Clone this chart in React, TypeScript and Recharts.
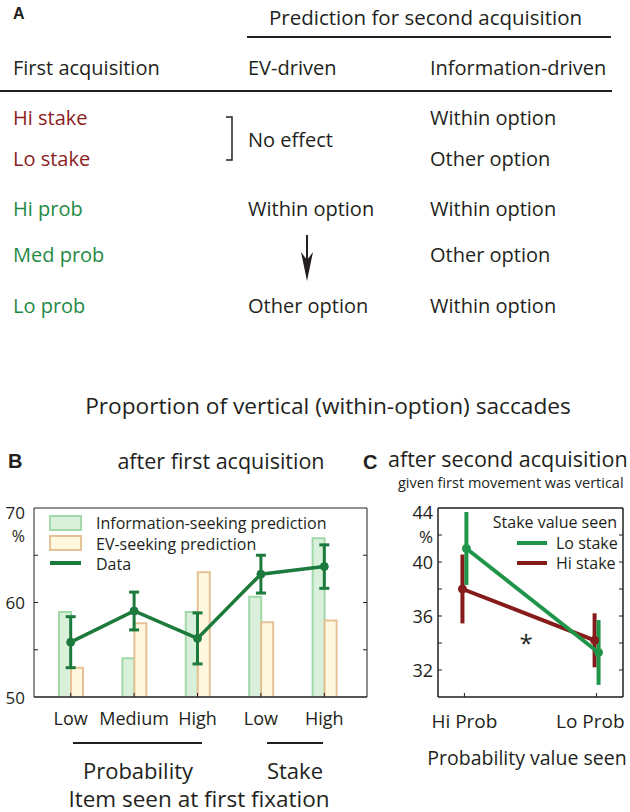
import React from "react";
import {
  ComposedChart,
  Bar,
  Line,
  XAxis,
  YAxis,
  ErrorBar,
} from "recharts";

// panel B: proportion of vertical saccades after first acquisition
const bKeys = ["pLow", "pMed", "pHigh", "sLow", "sHigh"];
const bTickLabels = ["Low", "Medium", "High", "Low", "High"];
const infoPrediction = [59.0, 54.1, 59.0, 60.6, 66.8];
const evPrediction = [53.1, 57.8, 63.2, 57.9, 58.1];
const observed = [55.8, 59.1, 56.2, 63.0, 63.8];
const observedErr = [2.7, 2.0, 2.7, 2.0, 2.3];
const bTicks = [50, 55, 60, 65, 70];
const bLabelled = [50, 60, 70];

// panel C: after second acquisition
const cProbIndex = [1, 2];
const cTickLabels = ["Hi Prob", "Lo Prob"];
const loStakeVals = [41.0, 33.3];
const loStakeErr = [2.7, 2.4];
const hiStakeVals = [38.0, 34.2];
const hiStakeErr = [2.55, 2.0];
const cTicks = [30, 32, 34, 36, 38, 40, 42, 44];
const cLabelled = [32, 36, 40, 44];

const FONT = "'Open Sans', 'Noto Sans', sans-serif";
const BOLD = "'Liberation Sans', Arial, sans-serif";
const INK = "#231f20";
const DARK_RED = "#8b1c1f";
const TEXT_GREEN = "#1f8a45";
const DATA_GREEN = "#1b7a3c";
const LO_GREEN = "#1f9549";
const HI_RED = "#861b1b";
const INFO_FILL = "#d9f0db";
const INFO_STROKE = "#a3d8a8";
const EV_FILL = "#fff8df";
const EV_STROKE = "#e6c195";

const DODGE = 0.015;

const bData = bKeys.map((k, i) => ({
  cat: k,
  info: infoPrediction[i],
  ev: evPrediction[i],
  data: observed[i],
  dataErr: observedErr[i],
}));

const loStakeData = cProbIndex.map((p, i) => ({
  x: p + DODGE,
  y: loStakeVals[i],
  e: loStakeErr[i],
}));
const hiStakeData = cProbIndex.map((p, i) => ({
  x: p - DODGE,
  y: hiStakeVals[i],
  e: hiStakeErr[i],
}));

const makeYTick =
  (side: "left" | "right", domain: number[], labelled: number[], gap: number, size: number) =>
  (props: any) => {
    const { x, y, payload } = props;
    const v = payload.value;
    const inward = side === "left" ? 4 : -4;
    const edge = v === domain[0] || v === domain[1];
    const top = v === domain[1];
    return (
      <g>
        {!edge && (
          <line x1={x} x2={x + inward} y1={y} y2={y} stroke={INK} strokeWidth={1} />
        )}
        {side === "left" && labelled.includes(v) && (
          <text
            x={x - gap}
            y={top ? y + 4 : y}
            textAnchor="end"
            dominantBaseline="central"
            fontFamily={FONT}
            fontSize={size}
            fill={INK}
          >
            {v}
          </text>
        )}
        {side === "left" && top && (
          <text
            x={x - gap}
            y={y + 28}
            textAnchor="end"
            dominantBaseline="central"
            fontFamily={FONT}
            fontSize={size - 1}
            fill={INK}
          >
            %
          </text>
        )}
      </g>
    );
  };

const BXTick = (props: any) => {
  const { x, y, index } = props;
  return (
    <g>
      <line x1={x} x2={x} y1={y} y2={y - 4} stroke={INK} strokeWidth={1} />
      <text
        x={x}
        y={y + 21}
        textAnchor="middle"
        dominantBaseline="central"
        fontFamily={FONT}
        fontSize={18}
        fill={INK}
      >
        {bTickLabels[index]}
      </text>
    </g>
  );
};

const CXTick = (props: any) => {
  const { x, y, index } = props;
  const last = index === cTickLabels.length - 1;
  return (
    <g>
      <line x1={x} x2={x} y1={y} y2={y - 4} stroke={INK} strokeWidth={1} />
      <text
        x={last ? x + 28 : x}
        y={y + 24}
        textAnchor={last ? "end" : "middle"}
        dominantBaseline="central"
        fontFamily={FONT}
        fontSize={19}
        fill={INK}
      >
        {cTickLabels[index]}
      </text>
    </g>
  );
};

const T = (p: any) => (
  <text
    dominantBaseline="central"
    fontFamily={FONT}
    fontSize={20}
    fill={INK}
    {...p}
  />
);

const Overlay = () => (
  <svg
    width={630}
    height={812}
    style={{ position: "absolute", left: 0, top: 0, pointerEvents: "none" }}
  >
    {/* panel A */}
    <text x={13} y={13} dominantBaseline="central" fontFamily={BOLD} fontWeight="bold" fontSize={16} fill={INK}>
      A
    </text>
    <T x={269} y={17} fontSize={20.5}>Prediction for second acquisition</T>
    <line x1={247} x2={611} y1={37} y2={37} stroke={INK} strokeWidth={2} />
    <T x={13} y={67}>First acquisition</T>
    <T x={248} y={67}>EV-driven</T>
    <T x={430} y={67}>Information-driven</T>
    <line x1={0} x2={612} y1={91} y2={91} stroke={INK} strokeWidth={2} />

    <T x={13} y={117} fill={DARK_RED}>Hi stake</T>
    <T x={13} y={158} fill={DARK_RED}>Lo stake</T>
    <T x={13} y={208} fill={TEXT_GREEN}>Hi prob</T>
    <T x={13} y={254} fill={TEXT_GREEN}>Med prob</T>
    <T x={13} y={305} fill={TEXT_GREEN}>Lo prob</T>

    <path d="M226 117 H232 V160 H226" fill="none" stroke={INK} strokeWidth={1.5} />
    <T x={248} y={139}>No effect</T>
    <T x={248} y={208}>Within option</T>
    <line x1={307} x2={307} y1={235} y2={266} stroke={INK} strokeWidth={2} />
    <path d="M307 281 L301 252 L307 260 L313 252 Z" fill={INK} />
    <T x={248} y={305}>Other option</T>

    <T x={430} y={117}>Within option</T>
    <T x={430} y={158}>Other option</T>
    <T x={430} y={208}>Within option</T>
    <T x={430} y={254}>Other option</T>
    <T x={430} y={305}>Within option</T>

    {/* shared title */}
    <T x={328} y={405} textAnchor="middle" fontSize={22.7}>
      Proportion of vertical (within-option) saccades
    </T>

    {/* panel B titles */}
    <text x={8} y={461} dominantBaseline="central" fontFamily={BOLD} fontWeight="bold" fontSize={20} fill={INK}>
      B
    </text>
    <T x={221} y={460} textAnchor="middle" fontSize={21.5}>after first acquisition</T>

    {/* panel B legend */}
    <rect x={50} y={516} width={31} height={14} fill={INFO_FILL} stroke={INFO_STROKE} strokeWidth={2} />
    <T x={96} y={523} fontSize={16}>Information-seeking prediction</T>
    <rect x={50} y={536} width={31} height={14} fill={EV_FILL} stroke={EV_STROKE} strokeWidth={2} />
    <T x={96} y={544} fontSize={16}>EV-seeking prediction</T>
    <line x1={50} x2={81} y1={563} y2={563} stroke={DATA_GREEN} strokeWidth={4} />
    <T x={96} y={564} fontSize={16}>Data</T>

    {/* panel B group labels */}
    <line x1={73} x2={202} y1={743} y2={743} stroke={INK} strokeWidth={2} />
    <line x1={267} x2={323} y1={743} y2={743} stroke={INK} strokeWidth={2} />
    <T x={138} y={770} textAnchor="middle" fontSize={22}>Probability</T>
    <T x={295} y={770} textAnchor="middle" fontSize={22}>Stake</T>
    <T x={199} y={798} textAnchor="middle" fontSize={22.5}>Item seen at first fixation</T>

    {/* panel C titles */}
    <text x={363} y={462} dominantBaseline="central" fontFamily={BOLD} fontWeight="bold" fontSize={20} fill={INK}>
      C
    </text>
    <T x={388} y={458} fontSize={21.5}>after second acquisition</T>
    <T x={398} y={482} fontSize={14.5}>given first movement was vertical</T>

    {/* panel C legend */}
    <T x={617} y={522} textAnchor="end" fontSize={16}>Stake value seen</T>
    <line x1={517} x2={547} y1={543} y2={543} stroke={LO_GREEN} strokeWidth={4} />
    <T x={556} y={543} fontSize={16}>Lo stake</T>
    <line x1={517} x2={547} y1={563} y2={563} stroke={HI_RED} strokeWidth={4} />
    <T x={556} y={563} fontSize={16}>Hi stake</T>
    <T x={526} y={652} textAnchor="middle" dominantBaseline="auto" fontSize={24}>*</T>

    <T x={527} y={757} textAnchor="middle" fontSize={19.5}>Probability value seen</T>
  </svg>
);

// axes need a size of at least 1px or Recharts skips drawing them
const PanelB = () => (
  <div style={{ position: "absolute", left: 0, top: 490 }}>
    <ComposedChart
      width={380}
      height={270}
      data={bData}
      margin={{ top: 17, right: 12, bottom: 62, left: 33 }}
      barGap={0}
    >
      <XAxis
        dataKey="cat"
        interval={0}
        height={1}
        tickSize={0}
        tickMargin={0}
        tickLine={false}
        padding={{ left: 5, right: 11 }}
        axisLine={{ stroke: "#555", strokeWidth: 2 }}
        tick={BXTick}
      />
      <XAxis
        xAxisId="top"
        orientation="top"
        dataKey="cat"
        height={1}
        tick={false}
        tickLine={false}
        padding={{ left: 5, right: 11 }}
        axisLine={{ stroke: INK, strokeWidth: 1 }}
      />
      <YAxis
        yAxisId="left"
        domain={[50, 70]}
        ticks={bTicks}
        allowDataOverflow
        width={1}
        tickSize={0}
        tickMargin={0}
        tickLine={false}
        axisLine={{ stroke: INK, strokeWidth: 1 }}
        tick={makeYTick("left", [50, 70], bLabelled, 9, 17)}
      />
      <YAxis
        yAxisId="right"
        orientation="right"
        domain={[50, 70]}
        ticks={bTicks}
        allowDataOverflow
        width={1}
        tickSize={0}
        tickMargin={0}
        tickLine={false}
        axisLine={{ stroke: INK, strokeWidth: 1 }}
        tick={makeYTick("right", [50, 70], bLabelled, 9, 17)}
      />
      <Bar
        yAxisId="left"
        dataKey="info"
        barSize={12}
        fill={INFO_FILL}
        stroke={INFO_STROKE}
        strokeWidth={2}
        isAnimationActive={false}
      />
      <Bar
        yAxisId="left"
        dataKey="ev"
        barSize={12}
        fill={EV_FILL}
        stroke={EV_STROKE}
        strokeWidth={2}
        isAnimationActive={false}
      />
      <Line
        yAxisId="left"
        dataKey="data"
        stroke={DATA_GREEN}
        strokeWidth={3.5}
        dot={{ r: 4, fill: DATA_GREEN, stroke: DATA_GREEN, strokeWidth: 1 }}
        isAnimationActive={false}
      >
        <ErrorBar dataKey="dataErr" width={5} strokeWidth={3} stroke={DATA_GREEN} />
      </Line>
    </ComposedChart>
  </div>
);

const PanelC = () => (
  <div style={{ position: "absolute", left: 400, top: 490 }}>
    <ComposedChart
      width={230}
      height={270}
      margin={{ top: 17, right: 6, bottom: 62, left: 37 }}
    >
      <XAxis
        type="number"
        dataKey="x"
        domain={[0.8, 2.2]}
        ticks={cProbIndex}
        allowDataOverflow
        interval={0}
        height={1}
        tickSize={0}
        tickMargin={0}
        tickLine={false}
        axisLine={{ stroke: "#555", strokeWidth: 2 }}
        tick={CXTick}
      />
      <XAxis
        xAxisId="top"
        orientation="top"
        type="number"
        dataKey="x"
        domain={[0.8, 2.2]}
        ticks={cProbIndex}
        allowDataOverflow
        height={1}
        tick={false}
        tickLine={false}
        axisLine={{ stroke: INK, strokeWidth: 1.5 }}
      />
      <YAxis
        yAxisId="left"
        domain={[30, 44]}
        ticks={cTicks}
        allowDataOverflow
        width={1}
        tickSize={0}
        tickMargin={0}
        tickLine={false}
        axisLine={{ stroke: INK, strokeWidth: 1.5 }}
        tick={makeYTick("left", [30, 44], cLabelled, 5, 18)}
      />
      <YAxis
        yAxisId="right"
        orientation="right"
        domain={[30, 44]}
        ticks={cTicks}
        allowDataOverflow
        width={1}
        tickSize={0}
        tickMargin={0}
        tickLine={false}
        axisLine={{ stroke: INK, strokeWidth: 1.5 }}
        tick={makeYTick("right", [30, 44], cLabelled, 5, 18)}
      />
      <Line
        yAxisId="left"
        data={hiStakeData}
        dataKey="y"
        stroke={HI_RED}
        strokeWidth={4}
        dot={{ r: 4, fill: HI_RED, stroke: HI_RED, strokeWidth: 1 }}
        isAnimationActive={false}
      >
        <ErrorBar dataKey="e" width={0} strokeWidth={4} stroke={HI_RED} />
      </Line>
      <Line
        yAxisId="left"
        data={loStakeData}
        dataKey="y"
        stroke={LO_GREEN}
        strokeWidth={4}
        dot={{ r: 4, fill: LO_GREEN, stroke: LO_GREEN, strokeWidth: 1 }}
        isAnimationActive={false}
      >
        <ErrorBar dataKey="e" width={0} strokeWidth={4} stroke={LO_GREEN} />
      </Line>
    </ComposedChart>
  </div>
);

export default function App() {
  return (
    <div
      style={{
        position: "absolute",
        left: 0,
        top: 0,
        width: 630,
        height: 812,
        overflow: "hidden",
        background: "#fff",
        fontFamily: FONT,
      }}
    >
      <PanelB />
      <PanelC />
      <Overlay />
    </div>
  );
}
